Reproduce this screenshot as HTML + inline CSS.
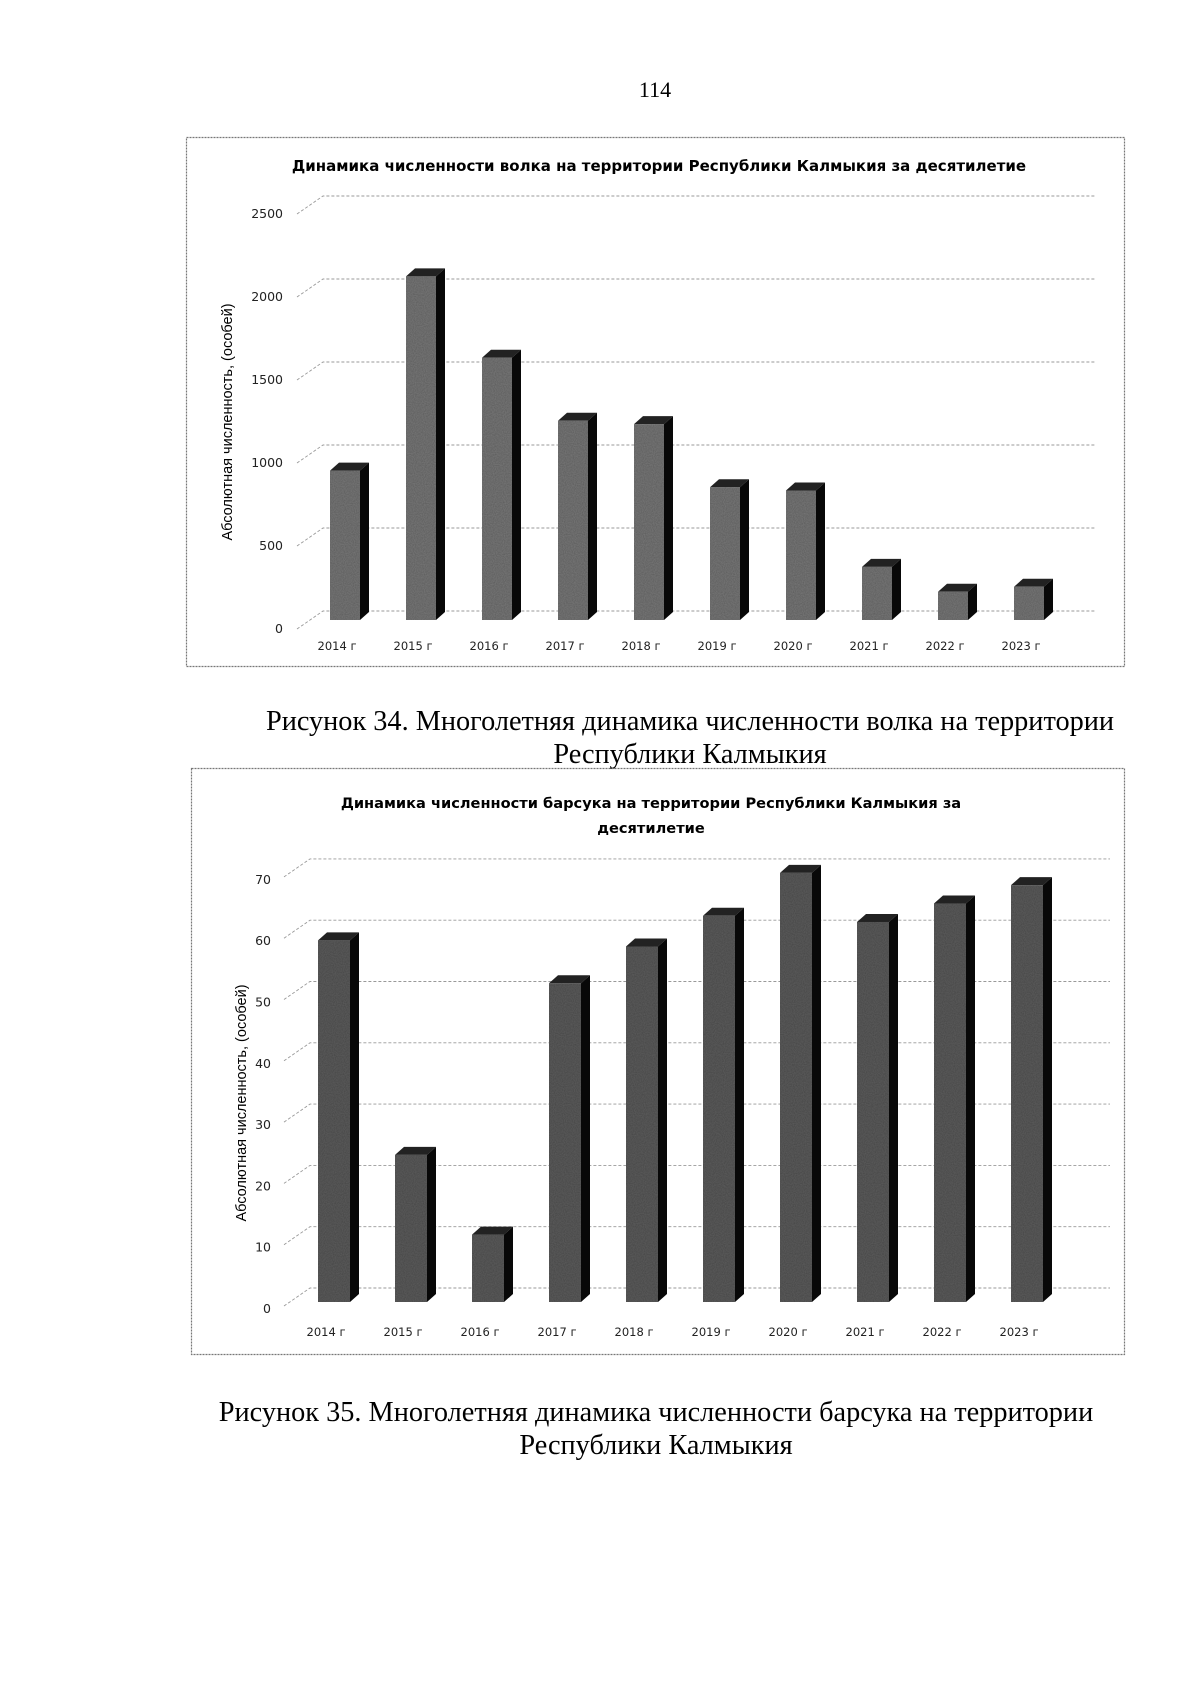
<!DOCTYPE html>
<html><head><meta charset="utf-8"><style>
html,body{margin:0;padding:0;background:#fff}
svg{display:block}
</style></head><body>
<svg width="1200" height="1691" viewBox="0 0 1200 1691" xmlns="http://www.w3.org/2000/svg">
<defs>
<filter id="n1" x="0" y="0" width="100%" height="100%">
<feTurbulence type="fractalNoise" baseFrequency="0.9" numOctaves="1" seed="3" result="t"/>
<feColorMatrix in="t" type="matrix" values="0 0 0 0 0  0 0 0 0 0  0 0 0 0 0  0 0 0 0.5 0" result="a"/>
<feComposite in="a" in2="SourceGraphic" operator="in" result="b"/>
<feMerge><feMergeNode in="SourceGraphic"/><feMergeNode in="b"/></feMerge>
</filter>
</defs>
<text x="655" y="97" font-family="Liberation Serif, serif" font-size="22" text-anchor="middle">114</text>

<!-- Chart 1 -->
<rect x="186.5" y="137.5" width="938" height="529" fill="none" stroke="#777" stroke-width="1.2" stroke-dasharray="2,1"/>
<text x="659" y="171" font-family="DejaVu Sans, sans-serif" font-size="15" font-weight="bold" text-anchor="middle">Динамика численности волка на территории Республики Калмыкия за десятилетие</text>
<g id="c1"></g>
<text transform="translate(232,422) rotate(-90)" font-family="Liberation Sans, sans-serif" font-size="14.5" text-anchor="middle">Абсолютная численность, (особей)</text>

<text x="690" y="730" font-family="Liberation Serif, serif" font-size="28.3" text-anchor="middle">Рисунок 34. Многолетняя динамика численности волка на территории</text>
<text x="690" y="763" font-family="Liberation Serif, serif" font-size="28.3" text-anchor="middle">Республики Калмыкия</text>

<!-- Chart 2 -->
<rect x="191.5" y="768.5" width="933" height="586" fill="none" stroke="#777" stroke-width="1.2" stroke-dasharray="2,1"/>
<text x="651" y="808" font-family="DejaVu Sans, sans-serif" font-size="14.6" font-weight="bold" text-anchor="middle">Динамика численности барсука на территории Республики Калмыкия за</text>
<text x="651" y="833" font-family="DejaVu Sans, sans-serif" font-size="14.6" font-weight="bold" text-anchor="middle">десятилетие</text>
<g id="c2"></g>
<text transform="translate(246,1103) rotate(-90)" font-family="Liberation Sans, sans-serif" font-size="14.5" text-anchor="middle">Абсолютная численность, (особей)</text>

<text x="656" y="1421" font-family="Liberation Serif, serif" font-size="28.3" text-anchor="middle">Рисунок 35. Многолетняя динамика численности барсука на территории</text>
<text x="656" y="1454" font-family="Liberation Serif, serif" font-size="28.3" text-anchor="middle">Республики Калмыкия</text>
</svg>
<script>
var NS="http://www.w3.org/2000/svg";
function el(p,t,a,txt){var e=document.createElementNS(NS,t);for(var k in a)e.setAttribute(k,a[k]);if(txt!==undefined)e.textContent=txt;p.appendChild(e);return e;}
function chart(id,o){
 var g=document.getElementById(id);
 o.ticks.forEach(function(v){
  var y=o.back0-v*o.sc;
  el(g,"polyline",{points:(o.gx0-26)+","+(y+18)+" "+o.gx0+","+y+" "+o.gx1+","+y,fill:"none",stroke:"#999","stroke-width":"0.9","stroke-dasharray":"3,2"});
  el(g,"text",{x:o.lx,y:y+o.ly,"font-family":"DejaVu Sans, sans-serif","font-size":"12.5","text-anchor":"end",fill:"#222"},String(v));
 });
 o.vals.forEach(function(v,i){
  var x=o.x0+o.p*i,w=o.w,b=o.base,t=b-v*o.sc,dx=9,dy=8;
  el(g,"polygon",{points:x+","+t+" "+(x+dx)+","+(t-dy)+" "+(x+w+dx)+","+(t-dy)+" "+(x+w)+","+t,fill:"#222"});
  el(g,"polygon",{points:(x+w)+","+t+" "+(x+w+dx)+","+(t-dy)+" "+(x+w+dx)+","+(b-dy)+" "+(x+w)+","+b,fill:"#080808"});
  el(g,"rect",{x:x,y:t,width:w,height:b-t,fill:o.fc,filter:"url(#n1)"});
  el(g,"text",{x:x+w/2-8,y:o.yl,"font-family":"DejaVu Sans, sans-serif","font-size":"11.5","text-anchor":"middle",fill:"#222"},(2014+i)+" г");
 });
}
chart("c1",{ticks:[0,500,1000,1500,2000,2500],back0:611,sc:0.166,gx0:323,gx1:1095,lx:283,ly:22,
 vals:[900,2070,1580,1200,1180,800,780,320,170,200],x0:330,p:76,w:30,base:620,fc:"#7a7a7a",yl:650});
chart("c2",{ticks:[0,10,20,30,40,50,60,70],back0:1288,sc:6.13,gx0:310,gx1:1110,lx:271,ly:25,
 vals:[59,24,11,52,58,63,70,62,65,68],x0:318,p:77,w:32,base:1302,fc:"#5e5e5e",yl:1336});
</script>
</body></html>
